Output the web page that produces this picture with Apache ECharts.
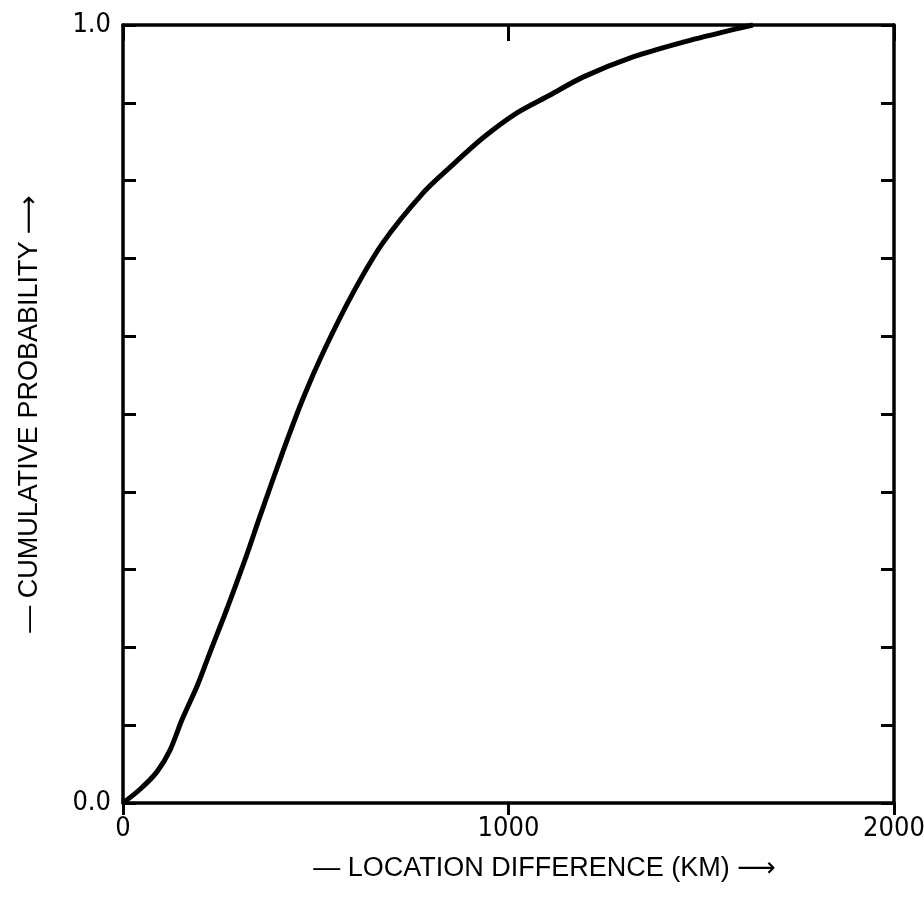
<!DOCTYPE html>
<html>
<head>
<meta charset="utf-8">
<script src="https://cdn.jsdelivr.net/npm/echarts@6/dist/echarts.min.js"></script>
<style>
html,body{margin:0;padding:0;background:#fff;}
#chart{width:924px;height:899px;}
</style>
</head>
<body>
<div id="chart"></div>
<script>
// Location difference (km)
var distanceKm = [0, 45, 88, 122, 153, 192, 226, 270, 316, 355, 415, 467, 520, 597, 674, 778, 848, 934, 1022, 1108, 1193, 1323, 1453, 1582, 1634];
// Cumulative probability
var cumProb = [0, 0.018, 0.040, 0.068, 0.107, 0.150, 0.194, 0.250, 0.312, 0.368, 0.452, 0.520, 0.580, 0.656, 0.720, 0.784, 0.817, 0.855, 0.887, 0.910, 0.933, 0.959, 0.978, 0.994, 1.0];
var xTicks = [0, 1000, 2000];
var yLabelValues = [0, 1];

var FONT = '"Liberation Sans Narrow", "DejaVu Sans Condensed", "Liberation Sans", sans-serif';
var TITLE_FONT = '"Liberation Sans", "DejaVu Sans", sans-serif';
var INK = '#000';

var points = distanceKm.map(function (d, i) { return [d, cumProb[i]]; });

var chart = echarts.init(document.getElementById('chart'), null, {renderer: 'canvas'});
chart.setOption({
  backgroundColor: '#fff',
  animation: false,
  grid: {left: 123, right: 30, top: 25, bottom: 96, outerBoundsMode: 'none', containLabel: false},
  xAxis: [{
    type: 'value', position: 'bottom', min: xTicks[0], max: xTicks[xTicks.length - 1], interval: 1000,
    axisLine: {show: true, onZero: false, lineStyle: {color: INK, width: 3.5}},
    axisTick: {show: true, inside: false, length: 12, lineStyle: {color: INK, width: 3}},
    axisLabel: {show: true, margin: 12, fontSize: 27, color: INK, fontFamily: FONT,
      formatter: function (v) { return String(v); }},
    splitLine: {show: false},
    name: '— LOCATION DIFFERENCE (KM) ⟶',
    nameLocation: 'middle', nameGap: 52,
    nameTextStyle: {fontSize: 27, color: INK, fontFamily: TITLE_FONT, padding: [0, 0, 0, 72]}
  }, {
    type: 'value', position: 'top', min: xTicks[0], max: xTicks[xTicks.length - 1], interval: 1000,
    axisLine: {show: true, onZero: false, lineStyle: {color: INK, width: 3.5}},
    axisTick: {show: true, inside: true, length: 16, lineStyle: {color: INK, width: 3}},
    axisLabel: {show: false},
    splitLine: {show: false}
  }],
  yAxis: [{
    type: 'value', position: 'left', min: 0, max: 1, interval: 0.1,
    axisLine: {show: true, onZero: false, lineStyle: {color: INK, width: 3.5}},
    axisTick: {show: true, inside: true, length: 13, lineStyle: {color: INK, width: 3}},
    axisLabel: {
      show: true, margin: 12, fontSize: 27, color: INK, fontFamily: FONT,
      formatter: function (v) {
        for (var i = 0; i < yLabelValues.length; i++) {
          if (Math.abs(v - yLabelValues[i]) < 1e-6) return v.toFixed(1);
        }
        return '';
      }
    },
    splitLine: {show: false},
    name: '— CUMULATIVE PROBABILITY ⟶',
    nameLocation: 'middle', nameGap: 80, nameRotate: 90,
    nameTextStyle: {fontSize: 27, color: INK, fontFamily: TITLE_FONT}
  }, {
    type: 'value', position: 'right', min: 0, max: 1, interval: 0.1,
    axisLine: {show: true, onZero: false, lineStyle: {color: INK, width: 3.5}},
    axisTick: {show: true, inside: true, length: 13, lineStyle: {color: INK, width: 3}},
    axisLabel: {show: false},
    splitLine: {show: false}
  }],
  series: [{
    type: 'line',
    xAxisIndex: 0, yAxisIndex: 0,
    data: points,
    smooth: 0.3,
    showSymbol: false,
    lineStyle: {color: INK, width: 5},
    clip: false
  }]
});
</script>
</body>
</html>
